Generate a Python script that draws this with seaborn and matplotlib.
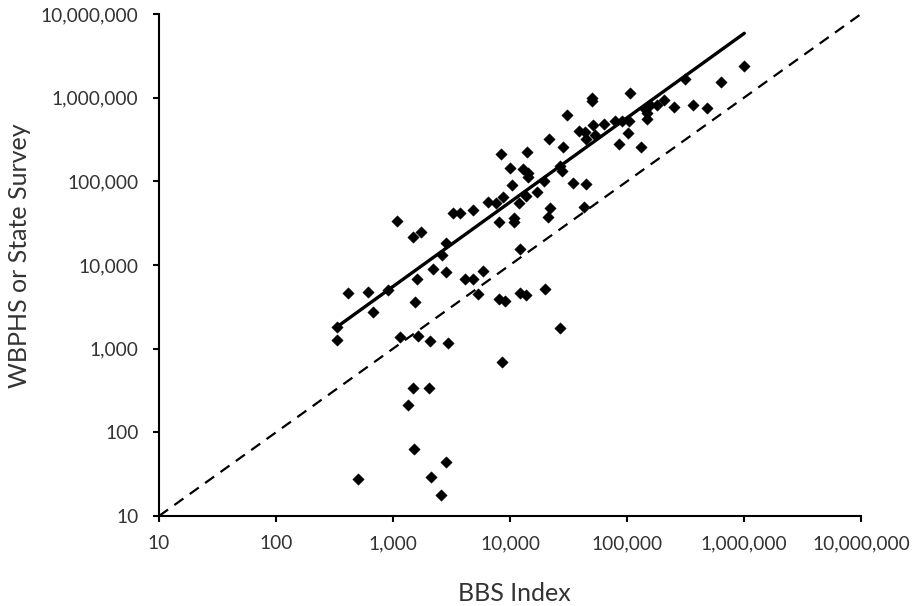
import numpy as np
import pandas as pd
import matplotlib
matplotlib.use("Agg")
import matplotlib.pyplot as plt
import matplotlib.ticker as mticker
import seaborn as sns

# BBS Index (x) and WBPHS or State Survey (y) values
bbs_index = [
    1074, 1489, 1722, 3236, 3733, 4853, 6446, 7516, 8767, 8326,
    10000, 10300, 12790, 14260, 14160, 13900, 11830, 13710, 16910, 8050,
    10890, 10890, 20940, 21980, 19540, 21560, 26500, 27690, 28580, 30740,
    34380, 44240, 42950, 38920, 43360, 44670, 50250, 50250, 51620, 52800,
    63960, 78300, 90200, 104900, 101200, 85900, 106300, 132000, 141500, 148600,
    148600, 157700, 179900, 207600, 249400, 311000, 367600, 481500, 638000, 1004000,
    2818, 2606, 12180, 2208, 2836, 1592, 899, 414, 606, 677,
    1549, 4121, 4797, 5912, 5355, 8100, 9060, 12180, 13710, 20000,
    26790, 333, 333, 1146, 1633, 2056, 2932, 8490,
    1471, 2042, 1349, 1510, 2818, 504, 2098, 2553,
]
survey = [
    33500, 21700, 24700, 42000, 42000, 45300, 57200, 54900, 64700, 211000,
    145800, 91400, 139900, 124300, 111400, 226400, 55200, 67500, 74900, 32600,
    36000, 32800, 37350, 47850, 100500, 319300, 154100, 131700, 256400, 618000,
    95200, 91900, 49600, 394700, 390000, 317600, 1000000, 908000, 465600, 356500,
    486500, 519900, 524000, 524000, 379600, 278000, 1148000, 256400, 729000, 647600,
    558000, 813000, 825000, 933000, 776000, 1664000, 813000, 743000, 1545000, 2379000,
    18410, 13130, 15490, 8860, 8160, 6730, 5010, 4580, 4745, 2760,
    3633, 6730, 6730, 8450, 4550, 3915, 3757, 4615, 4405, 5125,
    1749, 1827, 1284, 1376, 1406, 1239, 1157, 697,
    335, 335, 212, 62.7, 43.8, 27.7, 29.0, 17.7,
]

# Power trendline y = 10**trend_log_intercept * x**trend_slope
trend_slope = 1.008
trend_log_intercept = 0.719

# 1:1 reference line extent
one_to_one = [10, 10_000_000]

tick_values = [10, 100, 1_000, 10_000, 100_000, 1_000_000, 10_000_000]

df = pd.DataFrame({"BBS Index": bbs_index, "WBPHS or State Survey": survey})

trend_x = np.array([min(bbs_index), max(bbs_index)], dtype=float)
trend_df = pd.DataFrame({"x": trend_x,
                         "y": 10 ** trend_log_intercept * trend_x ** trend_slope})
ref_df = pd.DataFrame({"x": one_to_one, "y": one_to_one})

sns.set_theme(style="white")
plt.rcParams["font.family"] = ["Lato", "DejaVu Sans"]

fig = plt.figure(figsize=(9.19, 6.06), dpi=100)
ax = fig.add_axes([0.173, 0.1485, 0.764, 0.8285])

sns.lineplot(data=ref_df, x="x", y="y", ax=ax, color="black", lw=1.6,
             linestyle=(0, (5, 3.5)), zorder=2)
sns.lineplot(data=trend_df, x="x", y="y", ax=ax, color="black", lw=2.4, zorder=3)
sns.scatterplot(data=df, x="BBS Index", y="WBPHS or State Survey", ax=ax,
                marker="D", s=34, color="black", edgecolor="black", linewidth=0.3,
                zorder=4)

ax.set_xscale("log")
ax.set_yscale("log")
ax.set_xlim(10, 10_000_000)
ax.set_ylim(10, 10_000_000)
ax.set_xticks(tick_values)
ax.set_yticks(tick_values)
fmt = mticker.FuncFormatter(lambda v, p: f"{int(round(v)):,}")
ax.xaxis.set_major_formatter(fmt)
ax.yaxis.set_major_formatter(fmt)
ax.xaxis.set_minor_locator(mticker.NullLocator())
ax.yaxis.set_minor_locator(mticker.NullLocator())

for side in ["top", "right"]:
    ax.spines[side].set_visible(False)
for side in ["left", "bottom"]:
    ax.spines[side].set_color("black")
    ax.spines[side].set_linewidth(1.5)

ax.tick_params(axis="both", which="major", direction="out", length=4.3, width=1.5,
               color="black", labelsize=13.8, labelcolor="#333333",
               bottom=True, left=True)
ax.tick_params(axis="y", pad=10.5)
ax.tick_params(axis="x", pad=9.5)
ax.set_xlabel("BBS Index", fontsize=18, color="#333333")
ax.set_ylabel("WBPHS or State Survey", fontsize=18, color="#333333")
ax.xaxis.set_label_coords(0.506, -0.131)
ax.yaxis.set_label_coords(-0.182, 0.518)
ax.grid(False)

fig.savefig("out.png", dpi=100)
